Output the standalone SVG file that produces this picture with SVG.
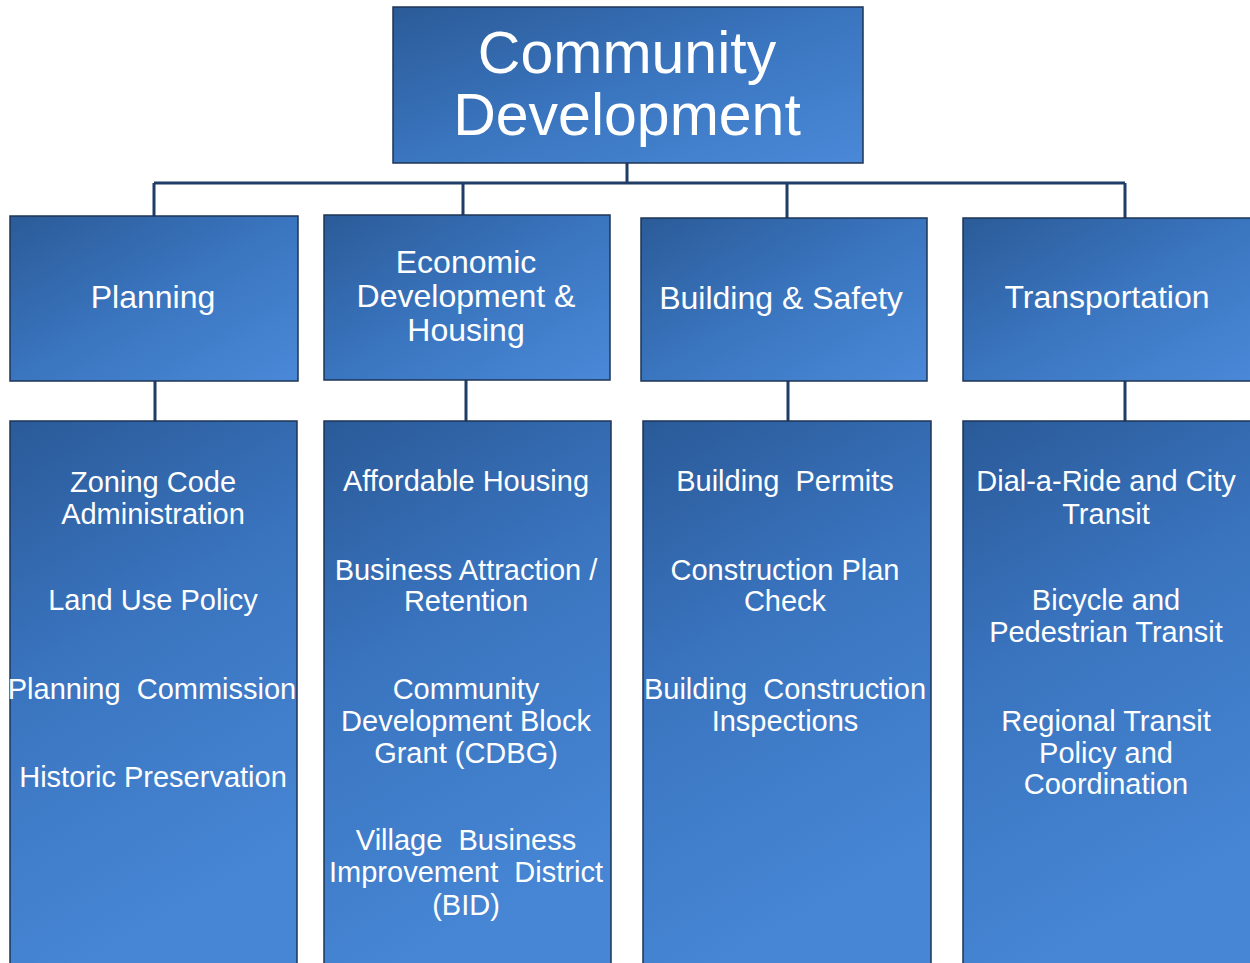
<svg xmlns="http://www.w3.org/2000/svg" width="1250" height="963" viewBox="0 0 1250 963">
<defs>
<linearGradient id="g" x1="0" y1="0" x2="1" y2="1">
<stop offset="0" stop-color="#2b5b98"/>
<stop offset="0.5" stop-color="#3a75bf"/>
<stop offset="1" stop-color="#4a89d8"/>
</linearGradient>
<linearGradient id="gt" x1="0" y1="0" x2="0.3" y2="1">
<stop offset="0" stop-color="#2a5a98"/>
<stop offset="0.45" stop-color="#3a74bf"/>
<stop offset="1" stop-color="#4686d4"/>
</linearGradient>
<style>
.box{fill:url(#g);stroke:#1e3556;stroke-width:1.5}
.tall{fill:url(#gt);stroke:#1e3556;stroke-width:1.5}
text{font-family:"Liberation Sans",Arial,sans-serif;fill:#ffffff;text-anchor:middle}
.t1{font-size:59px}
.t2{font-size:32px}
.t3{font-size:29px}
.conn{stroke:#1f3d66;stroke-width:3;fill:none}
</style>
</defs>
<rect width="1250" height="963" fill="#ffffff"/>
<g id="connectors">
<path class="conn" d="M627 163V183M154 183H1125M154 183V216M463 183V215M787 183V218M1125 183V218"/>
<path class="conn" d="M155 381V421M466 380V421M788 381V421M1125 381V421"/>
</g>
<g id="root">
<rect class="box" x="393" y="7" width="470" height="156"/>
<text class="t1" x="627" y="73">Community</text>
<text class="t1" x="627" y="135">Development</text>
</g>
<g id="planning">
<rect class="box" x="10" y="216" width="288" height="165"/>
<text class="t2" x="153" y="308">Planning</text>
</g>
<g id="econ">
<rect class="box" x="324" y="215" width="286" height="165"/>
<text class="t2" x="466" y="273">Economic</text>
<text class="t2" x="466" y="307">Development &amp;</text>
<text class="t2" x="466" y="341">Housing</text>
</g>
<g id="building">
<rect class="box" x="641" y="218" width="286" height="163"/>
<text class="t2" x="781" y="309">Building &amp; Safety</text>
</g>
<g id="transportation">
<rect class="box" x="963" y="218" width="290" height="163"/>
<text class="t2" x="1107" y="308">Transportation</text>
</g>
<g id="planning-list">
<rect class="tall" x="10" y="421" width="287" height="545"/>
<text class="t3" x="153" y="492">Zoning Code</text>
<text class="t3" x="153" y="524">Administration</text>
<text class="t3" x="153" y="610">Land Use Policy</text>
<text class="t3" x="152" y="699" xml:space="preserve">Planning  Commission</text>
<text class="t3" x="153" y="787">Historic Preservation</text>
</g>
<g id="econ-list">
<rect class="tall" x="324" y="421" width="287" height="545"/>
<text class="t3" x="466" y="491">Affordable Housing</text>
<text class="t3" x="466" y="580">Business Attraction /</text>
<text class="t3" x="466" y="611">Retention</text>
<text class="t3" x="466" y="699">Community</text>
<text class="t3" x="466" y="731">Development Block</text>
<text class="t3" x="466" y="763">Grant (CDBG)</text>
<text class="t3" x="466" y="850" xml:space="preserve">Village  Business</text>
<text class="t3" x="466" y="882" xml:space="preserve">Improvement  District</text>
<text class="t3" x="466" y="915">(BID)</text>
</g>
<g id="building-list">
<rect class="tall" x="643" y="421" width="288" height="545"/>
<text class="t3" x="785" y="491" xml:space="preserve">Building  Permits</text>
<text class="t3" x="785" y="580">Construction Plan</text>
<text class="t3" x="785" y="611">Check</text>
<text class="t3" x="785" y="699" xml:space="preserve">Building  Construction</text>
<text class="t3" x="785" y="731">Inspections</text>
</g>
<g id="transportation-list">
<rect class="tall" x="963" y="421" width="290" height="545"/>
<text class="t3" x="1106" y="491">Dial-a-Ride and City</text>
<text class="t3" x="1106" y="524">Transit</text>
<text class="t3" x="1106" y="610">Bicycle and</text>
<text class="t3" x="1106" y="642">Pedestrian Transit</text>
<text class="t3" x="1106" y="731">Regional Transit</text>
<text class="t3" x="1106" y="763">Policy and</text>
<text class="t3" x="1106" y="794">Coordination</text>
</g>
</svg>
